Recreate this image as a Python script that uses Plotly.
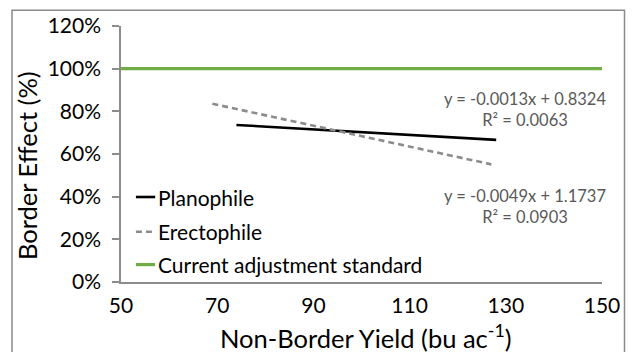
import plotly.graph_objects as go

# Trend lines fitted to each canopy type (slope, intercept, x span)
series_names = ["Planophile", "Erectophile"]
slopes = [-0.0013, -0.0049]
intercepts = [0.8324, 1.1737]
r_squared = [0.0063, 0.0903]
x_start = [74, 69]
x_end = [128, 127]

# Current adjustment standard (100 %)
standard_name = "Current adjustment standard"
standard_x = [50, 150]
standard_y = [1.0, 1.0]

x_ticks = [50, 70, 90, 110, 130, 150]
y_ticks = [0, 0.2, 0.4, 0.6, 0.8, 1.0, 1.2]
y_tick_labels = ["0%", "20%", "40%", "60%", "80%", "100%", "120%"]

x_title = "Non-Border Yield (bu ac<sup>-1</sup>)"
y_title = "Border Effect (%)"

FONT = "Lato"
styles = [dict(color="#000000", width=2.6, dash="solid"),
          dict(color="#8c8c8c", width=2.6, dash="6px,4px")]
green = "#70AD47"

fig = go.Figure()

fig.add_trace(go.Scatter(x=standard_x, y=standard_y, mode="lines",
                         line=dict(color=green, width=3.2),
                         name=standard_name, showlegend=False))
for i, name in enumerate(series_names):
    xs = [x_start[i], x_end[i]]
    ys = [slopes[i] * x + intercepts[i] for x in xs]
    fig.add_trace(go.Scatter(x=xs, y=ys, mode="lines", line=styles[i],
                             name=name, showlegend=False))

# Trend equations
eq_y = [0.675, 0.296]
for i in range(len(series_names)):
    fig.add_annotation(
        xref="paper", yref="paper", x=0.839, y=eq_y[i],
        xanchor="center", yanchor="middle",
        text=f"y = {slopes[i]}x + {intercepts[i]}<br>R² = {r_squared[i]:.4f}",
        showarrow=False, align="center",
        font=dict(family=FONT, size=16.5, color="#595959"))

# Legend drawn inside the plot area
legend_rows = [(series_names[0], styles[0]), (series_names[1], styles[1]),
               (standard_name, dict(color=green, width=3.2, dash="solid"))]
legend_y = [0.332, 0.196, 0.068]
for (label, st), ly in zip(legend_rows, legend_y):
    fig.add_shape(type="line", xref="paper", yref="paper",
                  x0=0.031, x1=0.071, y0=ly, y1=ly,
                  line=dict(color=st["color"], width=st["width"],
                            dash=st["dash"]))
    fig.add_annotation(xref="paper", yref="paper", x=0.073, y=ly,
                       text=label, showarrow=False, xanchor="left",
                       yanchor="middle",
                       font=dict(family=FONT, size=21, color="#000000"))

# Axis titles
fig.add_annotation(xref="paper", yref="paper", x=0.509, y=-0.212,
                   text=x_title, showarrow=False, xanchor="center",
                   yanchor="middle", font=dict(family=FONT, size=25.5))
fig.add_annotation(xref="paper", yref="paper", x=-0.195, y=0.454,
                   text=y_title, showarrow=False, textangle=-90,
                   xanchor="center", yanchor="middle",
                   font=dict(family=FONT, size=25.5))

# Chart border
fig.add_shape(type="rect", xref="paper", yref="paper",
              x0=-0.2266, x1=1.0468, y0=-0.5, y1=1.0615,
              line=dict(color="#8a8a8a", width=1.5), layer="below")

fig.update_layout(
    width=632, height=352,
    margin=dict(l=121, r=30, t=22, b=70),
    paper_bgcolor="white", plot_bgcolor="white",
    font=dict(family=FONT, color="#000000"),
    showlegend=False,
    xaxis=dict(range=[50, 150], tickvals=x_ticks, showgrid=False,
               zeroline=False, showline=True, linecolor="#8c8c8c",
               linewidth=1.5, ticks="", tickfont=dict(size=21),
               ticklabelstandoff=4),
    yaxis=dict(range=[0, 1.2], tickvals=y_ticks, ticktext=y_tick_labels,
               showgrid=False, zeroline=False, showline=True,
               linecolor="#8c8c8c", linewidth=1.5, ticks="outside",
               ticklen=7, tickcolor="#8c8c8c", tickwidth=1.5,
               tickfont=dict(size=21), ticklabelstandoff=7),
)

fig.write_html("out.html")
